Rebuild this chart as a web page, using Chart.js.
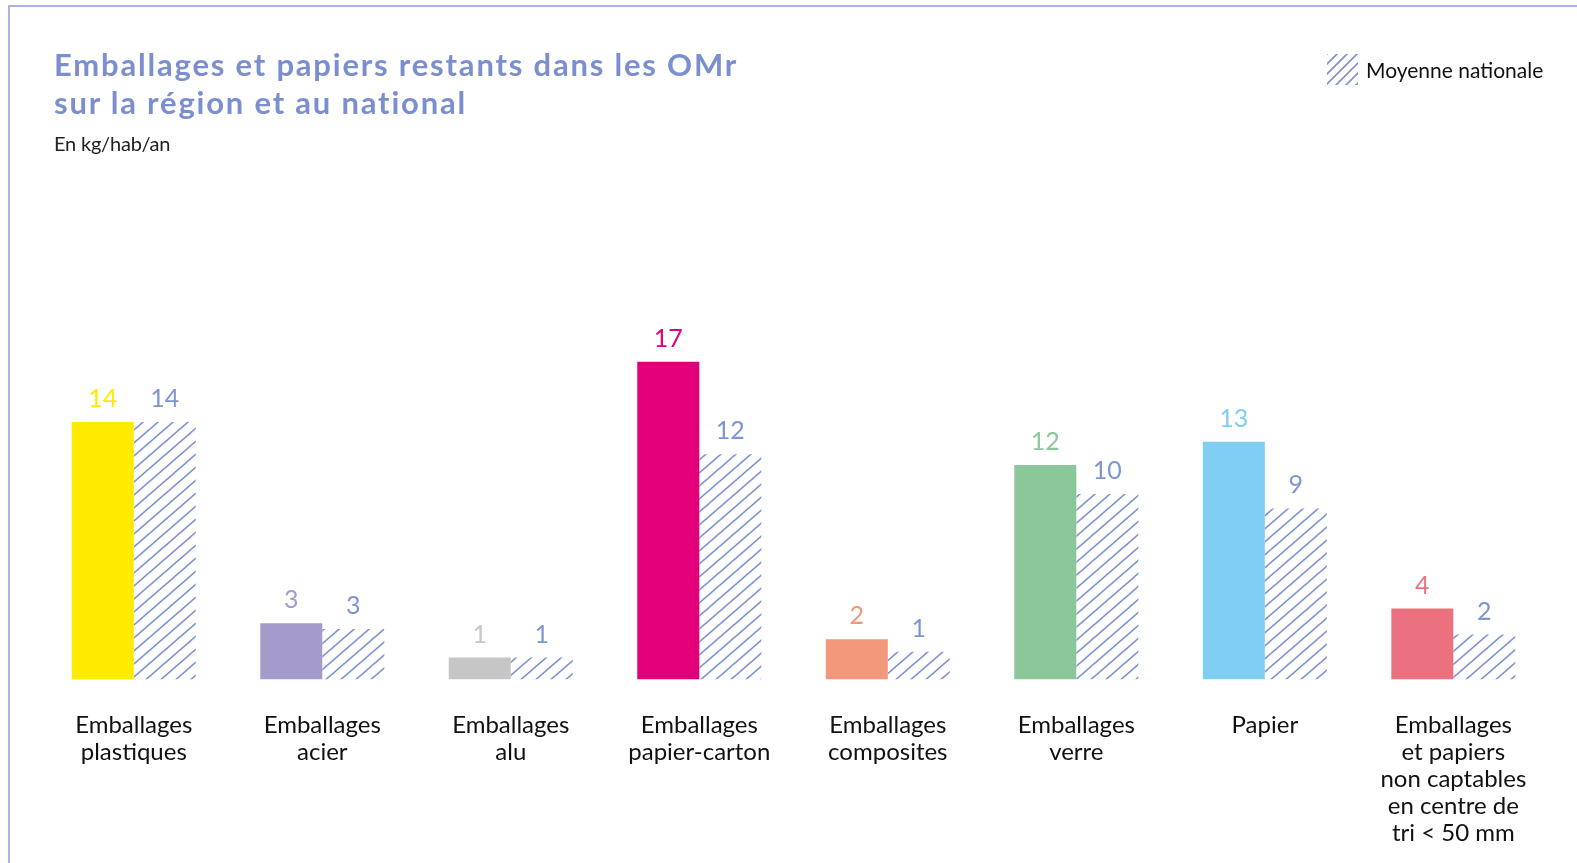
<!DOCTYPE html>
<html lang="fr">
<head>
<meta charset="utf-8">
<script src="https://cdn.jsdelivr.net/npm/chart.js@4/dist/chart.umd.min.js"></script>
<style>
  html, body { margin: 0; padding: 0; background: #ffffff; }
  body { width: 1577px; height: 863px; position: relative; overflow: hidden; font-family: Lato, "Open Sans", sans-serif; }
  #frame { position: absolute; left: 8px; top: 5px; right: 0; bottom: -4px; border-left: 2px solid #a9b4e0; border-top: 2px solid #a9b4e0; }
  #chart { position: absolute; left: 0; top: 0; }
  #title { position: absolute; left: 54px; top: 45px; font-weight: 700; font-size: 31px; letter-spacing: 1.8px; line-height: 38px; color: #7b8fd0; white-space: nowrap; }
  #subtitle { position: absolute; left: 54px; top: 131px; font-size: 20px; line-height: 24px; color: #222; letter-spacing: -0.2px; }
  #legend { position: absolute; left: 1327px; top: 53px; height: 32px; display: flex; align-items: center; }
  #legend canvas { width: 31px; height: 31px; margin-right: 8px; }
  #legend span { font-size: 21px; color: #111; }
</style>
</head>
<body>
<div id="frame"></div>
<canvas id="chart" width="1577" height="863"></canvas>
<div id="title">Emballages et papiers restants dans les OMr<br>sur la région et au national</div>
<div id="subtitle">En kg/hab/an</div>
<div id="legend"><canvas id="swatch" width="31" height="31"></canvas><span>Moyenne nationale</span></div>
<script>
// ---- Data ----
const categories = [
  ["Emballages", "plastiques"],
  ["Emballages", "acier"],
  ["Emballages", "alu"],
  ["Emballages", "papier-carton"],
  ["Emballages", "composites"],
  ["Emballages", "verre"],
  ["Papier"],
  ["Emballages", "et papiers", "non captables", "en centre de", "tri < 50 mm"]
];
const regionValues   = [13.84, 3.02, 1.18, 17.09, 2.16, 11.53, 12.78, 3.82];
const nationalValues = [13.84, 2.72, 1.18, 12.11, 1.49, 9.97, 9.20, 2.42];
const regionLabels   = ["14", "3", "1", "17", "2", "12", "13", "4"];
const nationalLabels = ["14", "3", "1", "12", "1", "10", "9", "2"];
const regionColors = ["#ffea00", "#a59bca", "#c6c6c6", "#e2007a", "#f1997a", "#8cc79a", "#80cff3", "#ec717f"];
const nationalLabel = "Moyenne nationale";
const hatchColor = "#7f95d3";

// ---- Hatch pattern ----
function makeHatch(w, h) {
  const c = document.createElement("canvas");
  c.width = w; c.height = h;
  const g = c.getContext("2d");
  g.strokeStyle = hatchColor;
  g.lineWidth = 1.7;
  g.beginPath();
  g.moveTo(-w, 2 * h); g.lineTo(2 * w, -h);
  g.moveTo(-2 * w, 2 * h); g.lineTo(w, -h);
  g.moveTo(0, 2 * h); g.lineTo(3 * w, -h);
  g.stroke();
  return c;
}
const hatchTile = makeHatch(15, 13);
const ctx = document.getElementById("chart").getContext("2d");
const hatchPattern = ctx.createPattern(hatchTile, "repeat");

// legend swatch
(function () {
  const s = document.getElementById("swatch").getContext("2d");
  s.fillStyle = s.createPattern(makeHatch(10, 10), "repeat");
  s.fillRect(0, 0, 31, 31);
})();

// ---- Value labels plugin ----
const valueLabels = {
  id: "valueLabels",
  afterDatasetsDraw(chart) {
    const c = chart.ctx;
    c.save();
    c.font = "25px Lato, 'Open Sans', sans-serif";
    c.textAlign = "center";
    c.textBaseline = "middle";
    chart.data.datasets.forEach((ds, di) => {
      const meta = chart.getDatasetMeta(di);
      meta.data.forEach((bar, i) => {
        c.fillStyle = di === 0 ? regionColors[i] : hatchColor;
        c.fillText(ds.valueText[i], bar.x, bar.y - 23);
      });
    });
    c.restore();
  }
};

new Chart(ctx, {
  type: "bar",
  data: {
    labels: categories,
    datasets: [
      { label: "Région", data: regionValues, valueText: regionLabels, backgroundColor: regionColors, borderWidth: 0 },
      { label: nationalLabel, data: nationalValues, valueText: nationalLabels, backgroundColor: hatchPattern, borderWidth: 0 }
    ]
  },
  options: {
    responsive: false,
    animation: false,
    events: [],
    layout: { padding: { left: 39.5, right: 29.4, top: 307.5, bottom: 0 } },
    datasets: { bar: { categoryPercentage: 0.658, barPercentage: 1.0 } },
    plugins: { legend: { display: false }, tooltip: { enabled: false }, title: { display: false } },
    scales: {
      x: {
        grid: { display: false, drawTicks: false },
        border: { display: false },
        ticks: { color: "#111111", padding: 32, maxRotation: 0, autoSkip: false,
                 font: { family: "Lato, 'Open Sans', sans-serif", size: 24, lineHeight: 27 / 24 } },
        afterFit(scale) { scale.height = 863 - 679.5; }
      },
      y: { display: false, min: 0, max: 20 }
    }
  },
  plugins: [valueLabels]
});
</script>
</body>
</html>
